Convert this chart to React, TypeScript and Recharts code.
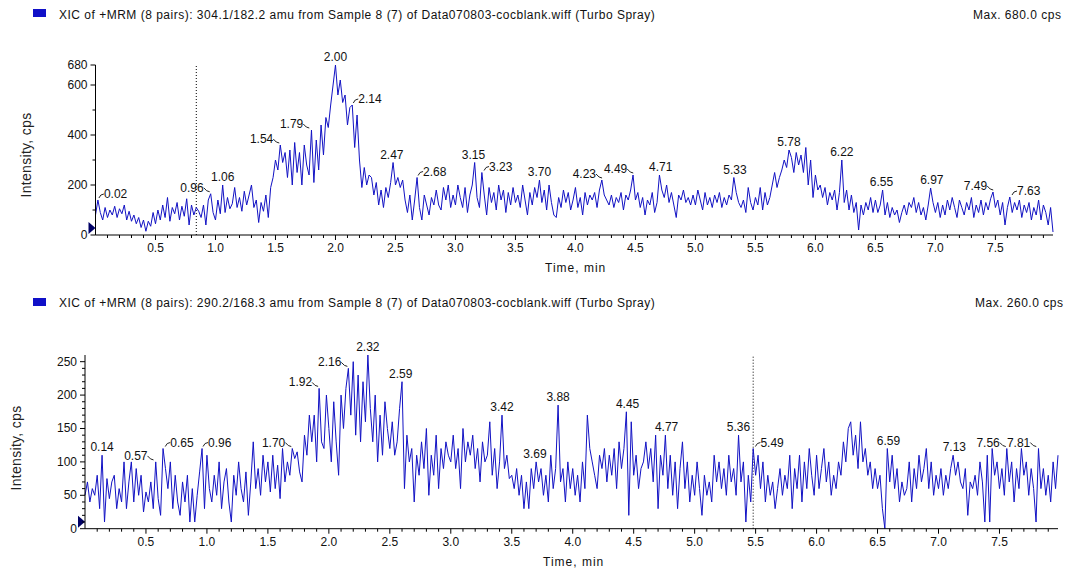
import {
  ComposedChart,
  Line,
  ReferenceDot,
  ReferenceLine,
  Scatter,
  XAxis,
  YAxis,
} from "recharts";

const FONT = '"Liberation Sans", Arial, sans-serif';
const TRACE = "#1212c4";

// scan interval of both traces, minutes
const SCAN = 0.02;

// 304.1/182.2 trace, one value per scan from 0.00 min
const topIntensity = [
  80, 140, 90, 60, 110, 70, 100, 80, 115, 70, 105, 85, 120, 60, 95, 55, 80, 45, 70, 30, 60, 15, 55, 35, 90,
  45, 100, 60, 120, 70, 150, 55, 110, 85, 130, 60, 115, 75, 145, 40, 120, 80, 110, 95, 70, 120, 40, 140, 165, 90,
  60, 140, 85, 200, 90, 150, 105, 125, 190, 110, 150, 95, 175, 120, 160, 200, 110, 140, 50, 130, 95, 160, 70, 190, 230,
  300, 260, 360, 290, 330, 230, 340, 200, 370, 250, 330, 200, 360, 280, 240, 420, 210, 380, 260, 440, 320, 470, 430, 520, 600,
  680, 560, 620, 530, 560, 440, 510, 520, 350, 480, 300, 190, 270, 200, 240, 230, 160, 210, 120, 180, 110, 190, 150, 210, 290,
  200, 230, 190, 220, 140, 90, 160, 60, 140, 230, 110, 60, 160, 120, 80, 150, 120, 180, 120, 100, 190, 140, 200, 110, 160,
  120, 200, 150, 110, 190, 90, 160, 200, 290, 150, 110, 250, 160, 80, 190, 130, 170, 100, 200, 140, 180, 90, 170, 120, 190,
  130, 160, 110, 200, 140, 80, 170, 120, 190, 150, 220, 130, 180, 100, 200, 130, 80, 70, 150, 110, 180, 130, 170, 100, 140,
  190, 110, 150, 80, 170, 120, 160, 140, 170, 110, 180, 220, 160, 140, 120, 160, 110, 150, 130, 170, 100, 160, 140, 180, 240,
  140, 170, 110, 150, 80, 140, 120, 170, 90, 130, 240, 180, 150, 200, 130, 170, 120, 70, 160, 140, 180, 130, 150, 120, 160,
  120, 180, 140, 100, 170, 120, 150, 110, 160, 130, 170, 110, 150, 120, 160, 140, 230, 170, 130, 110, 140, 90, 190, 130, 100,
  150, 120, 190, 100, 170, 120, 150, 200, 250, 190, 230, 260, 300, 270, 340, 310, 250, 330, 280, 320, 250, 350, 200, 300, 150,
  240, 180, 200, 150, 190, 120, 170, 140, 180, 100, 170, 300, 130, 180, 100, 160, 90, 130, 20, 120, 80, 130, 100, 150, 90,
  140, 90, 120, 180, 80, 130, 70, 110, 80, 100, 50, 90, 120, 80, 130, 110, 150, 90, 130, 80, 110, 60, 120, 188, 130,
  90, 130, 70, 120, 80, 140, 100, 150, 110, 70, 140, 110, 80, 130, 100, 150, 70, 120, 90, 140, 80, 130, 100, 145, 172,
  110, 140, 80, 130, 40, 110, 152, 90, 130, 100, 140, 70, 120, 90, 130, 60, 110, 80, 140, 60, 120, 90, 40, 110, 12,
];

// 290.2/168.3 trace, one value per scan from 0.00 min
const bottomIntensity = [
  50, 70, 40, 60, 50, 80, 30, 110, 10, 75, 45, 70, 80, 30, 60, 40, 100, 30, 70, 100, 40, 90, 50, 80, 25,
  55, 40, 70, 30, 100, 45, 20, 120, 90, 60, 100, 30, 80, 40, 20, 70, 40, 80, 10, 60, 10, 50, 85, 120, 30,
  110, 60, 40, 80, 50, 100, 30, 70, 90, 40, 10, 80, 50, 100, 60, 40, 85, 20, 70, 130, 60, 90, 50, 110, 70,
  100, 55, 110, 60, 95, 45, 120, 70, 100, 80, 120, 105, 115, 85, 70, 140, 110, 170, 130, 170, 100, 210, 130, 120, 200,
  150, 100, 190, 130, 80, 200, 150, 210, 240, 170, 250, 140, 230, 130, 220, 160, 260, 180, 130, 200, 100, 170, 110, 190, 150,
  120, 160, 110, 130, 180, 220, 60, 140, 100, 120, 40, 110, 80, 130, 90, 150, 50, 110, 80, 140, 60, 120, 90, 130, 110,
  100, 140, 90, 120, 60, 150, 100, 130, 110, 140, 90, 120, 70, 130, 100, 110, 160, 80, 120, 60, 100, 170, 90, 110, 75,
  80, 60, 90, 50, 80, 30, 70, 30, 90, 60, 100, 70, 90, 50, 80, 40, 110, 60, 90, 185, 70, 90, 40, 100, 60,
  90, 50, 80, 40, 100, 60, 170, 120, 100, 80, 60, 110, 90, 120, 70, 110, 80, 120, 60, 130, 90, 120, 175, 20, 160,
  80, 110, 60, 90, 100, 130, 90, 120, 70, 140, 30, 110, 80, 140, 60, 110, 50, 100, 30, 90, 130, 60, 100, 40, 80,
  50, 100, 60, 20, 80, 50, 70, 40, 110, 70, 100, 60, 90, 50, 110, 70, 90, 50, 140, 70, 100, 10, 80, 40, 120,
  80, 110, 60, 100, 40, 80, 50, 70, 30, 60, 90, 50, 80, 60, 110, 30, 90, 60, 110, 40, 100, 60, 120, 80, 50,
  110, 60, 90, 120, 70, 100, 50, 80, 60, 100, 80, 130, 100, 150, 160, 110, 140, 90, 160, 100, 120, 80, 100, 60, 90,
  60, 80, 30, 0, 120, 70, 110, 60, 90, 40, 70, 50, 60, 100, 40, 90, 60, 110, 70, 90, 120, 60, 100, 50, 80,
  60, 90, 50, 80, 60, 90, 110, 80, 100, 70, 60, 90, 20, 70, 60, 80, 50, 100, 70, 10, 110, 10, 120, 80, 100,
  60, 90, 50, 120, 70, 100, 40, 90, 60, 120, 80, 100, 50, 90, 60, 10, 120, 60, 90, 50, 80, 40, 100, 60, 110,
];

// labelled apexes
const topPeakTimes = [0.02, 0.96, 1.06, 1.54, 1.79, 2.0, 2.14, 2.47, 2.68, 3.15, 3.23, 3.7, 4.23, 4.49, 4.71, 5.33, 5.78, 6.22, 6.55, 6.97, 7.49, 7.63];
const topPeakHeights = [140, 165, 200, 360, 420, 680, 520, 290, 230, 290, 250, 220, 220, 240, 240, 230, 340, 300, 180, 188, 172, 152];
const topPeakSides = ["r", "l", "c", "l", "l", "c", "r", "c", "r", "c", "r", "c", "l", "l", "c", "c", "c", "c", "c", "c", "l", "r"];

const bottomPeakTimes = [0.14, 0.57, 0.65, 0.96, 1.7, 1.92, 2.16, 2.32, 2.59, 3.42, 3.69, 3.88, 4.45, 4.77, 5.36, 5.49, 6.59, 7.13, 7.56, 7.81];
const bottomPeakHeights = [110, 100, 120, 120, 120, 210, 240, 260, 220, 170, 100, 185, 175, 140, 140, 120, 120, 110, 120, 120];
const bottomPeakSides = ["c", "l", "r", "r", "l", "l", "l", "c", "c", "c", "c", "c", "c", "c", "c", "r", "c", "c", "l", "l"];

const xTickLabels = [0.5, 1.0, 1.5, 2.0, 2.5, 3.0, 3.5, 4.0, 4.5, 5.0, 5.5, 6.0, 6.5, 7.0, 7.5];
const topYLabels = [0, 200, 400, 600, 680];
const topYTicks = [0, 100, 200, 300, 400, 500, 600, 680];
const bottomYLabels = [0, 50, 100, 150, 200, 250];

const xTicks = Array.from({ length: 79 }, (_, i) => (i + 1) / 10);
const bottomYTicks = Array.from({ length: 26 }, (_, i) => i * 10);

const toSeries = (vals: number[]) => vals.map((v, i) => ({ t: Math.round(i * SCAN * 100) / 100, v }));
const toPeaks = (times: number[], heights: number[], sides: string[]) =>
  times.map((t, i) => ({ t, v: heights[i], side: sides[i] }));

function XTick({ x, y, payload }: any) {
  const v = payload.value;
  const major = xTickLabels.some((m) => Math.abs(m - v) < 1e-6);
  return (
    <g>
      <line x1={x} y1={y} x2={x} y2={y + (major ? 5 : 3)} stroke="#000" />
      {major && (
        <text x={x} y={y + 17} textAnchor="middle" fontSize={12} fill="#111">
          {v.toFixed(1)}
        </text>
      )}
    </g>
  );
}

const makeYTick = (labels: number[]) => ({ x, y, payload }: any) => {
  const v = payload.value;
  const major = labels.includes(v);
  return (
    <g>
      <line x1={x} y1={y} x2={x - (major ? 5 : 3)} y2={y} stroke="#000" />
      {major && (
        <text x={x - 8} y={y + 4} textAnchor="end" fontSize={12} fill="#111">
          {v}
        </text>
      )}
    </g>
  );
};

function PeakLabel({ cx, cy, payload }: any) {
  const txt = payload.t.toFixed(2);
  if (payload.side === "l") {
    return (
      <g>
        <path d={`M${cx - 7},${cy - 6} L${cx - 4},${cy - 3} L${cx - 1},${cy - 2}`} stroke="#222" fill="none" />
        <text x={cx - 7} y={cy - 2} textAnchor="end" fontSize={12} fill="#111">
          {txt}
        </text>
      </g>
    );
  }
  if (payload.side === "r") {
    return (
      <g>
        <path d={`M${cx + 1},${cy - 2} L${cx + 3},${cy - 5} L${cx + 6},${cy - 6}`} stroke="#222" fill="none" />
        <text x={cx + 6} y={cy - 2} textAnchor="start" fontSize={12} fill="#111">
          {txt}
        </text>
      </g>
    );
  }
  return (
    <text x={cx} y={cy - 4} textAnchor="middle" fontSize={12} fill="#111">
      {txt}
    </text>
  );
}

const Marker = ({ cx, cy }: any) => (
  <path d={`M${cx - 7},${cy - 13} L${cx},${cy - 7} L${cx - 7},${cy - 1} Z`} fill="#000066" />
);

type PanelProps = {
  series: { t: number; v: number }[];
  peaks: { t: number; v: number; side: string }[];
  yMax: number;
  yTicks: number[];
  yLabels: number[];
  cursor: number;
  height: number;
  margin: { top: number; right: number; bottom: number; left: number };
};

function Panel({ series, peaks, yMax, yTicks, yLabels, cursor, height, margin }: PanelProps) {
  return (
    <ComposedChart width={1072} height={height} data={series} margin={margin}>
      <XAxis
        dataKey="t"
        type="number"
        domain={[0, 7.98]}
        ticks={xTicks}
        interval={0}
        tickSize={0}
        tickMargin={0}
        tickLine={false}
        axisLine={{ stroke: "#000" }}
        tick={(p: any) => <XTick {...p} />}
        height={30}
      />
      <YAxis
        type="number"
        domain={[0, yMax]}
        ticks={yTicks}
        interval={0}
        tickSize={0}
        tickMargin={0}
        tickLine={false}
        axisLine={{ stroke: "#000" }}
        tick={makeYTick(yLabels)}
        width={60}
      />
      <ReferenceLine x={cursor} stroke="#000" strokeDasharray="1 2" />
      <Line
        type="linear"
        dataKey="v"
        stroke={TRACE}
        strokeWidth={1}
        dot={false}
        isAnimationActive={false}
      />
      <Scatter data={peaks} dataKey="v" shape={(p: any) => <PeakLabel {...p} />} isAnimationActive={false} />
      <ReferenceDot x={0} y={0} r={0} shape={(p: any) => <Marker {...p} />} />
    </ComposedChart>
  );
}

const abs = (left: number, top: number, extra: any = {}) => ({
  position: "absolute" as const,
  left,
  top,
  whiteSpace: "nowrap" as const,
  ...extra,
});

export default function App() {
  const topSeries = toSeries(topIntensity);
  const bottomSeries = toSeries(bottomIntensity);
  const topPeaks = toPeaks(topPeakTimes, topPeakHeights, topPeakSides);
  const bottomPeaks = toPeaks(bottomPeakTimes, bottomPeakHeights, bottomPeakSides);
  const titleStyle = { fontSize: 12, letterSpacing: 0.5, color: "#111", lineHeight: "13px" };
  const xTitle = { fontSize: 12, letterSpacing: 1, color: "#111" };
  const yTitle = {
    fontSize: 14,
    letterSpacing: 0.3,
    color: "#222",
    transform: "translate(-50%, -50%) rotate(-90deg)",
  };

  return (
    <div style={{ position: "relative", width: 1072, height: 569, overflow: "hidden", background: "#fff", fontFamily: FONT }}>
      <style>{"body{margin:0}"}</style>

      <div style={abs(33, 9, { width: 13, height: 8, background: "#1010c8" })} />
      <div style={abs(59, 9, titleStyle)}>
        XIC of +MRM (8 pairs): 304.1/182.2 amu from Sample 8 (7) of Data070803-cocblank.wiff (Turbo Spray)
      </div>
      <div style={abs(973, 9, titleStyle)}>Max. 680.0 cps</div>

      <div style={{ position: "absolute", left: 0, top: 0 }}>
        <Panel
          series={topSeries}
          peaks={topPeaks}
          yMax={680}
          yTicks={topYTicks}
          yLabels={topYLabels}
          cursor={0.84}
          height={285}
          margin={{ top: 65, right: 19, bottom: 20, left: 35.5 }}
        />
      </div>
      <div style={abs(26, 155, yTitle)}>Intensity, cps</div>
      <div style={abs(545, 261, xTitle)}>Time, min</div>

      <div style={abs(33, 298, { width: 13, height: 8, background: "#1010c8" })} />
      <div style={abs(59, 297, titleStyle)}>
        XIC of +MRM (8 pairs): 290.2/168.3 amu from Sample 8 (7) of Data070803-cocblank.wiff (Turbo Spray)
      </div>
      <div style={abs(975, 297, titleStyle)}>Max. 260.0 cps</div>

      <div style={{ position: "absolute", left: 0, top: 285 }}>
        <Panel
          series={bottomSeries}
          peaks={bottomPeaks}
          yMax={260}
          yTicks={bottomYTicks}
          yLabels={bottomYLabels}
          cursor={5.48}
          height={284}
          margin={{ top: 70, right: 14, bottom: 10.3, left: 25 }}
        />
      </div>
      <div style={abs(16, 448, yTitle)}>Intensity, cps</div>
      <div style={abs(543, 555, xTitle)}>Time, min</div>
    </div>
  );
}
